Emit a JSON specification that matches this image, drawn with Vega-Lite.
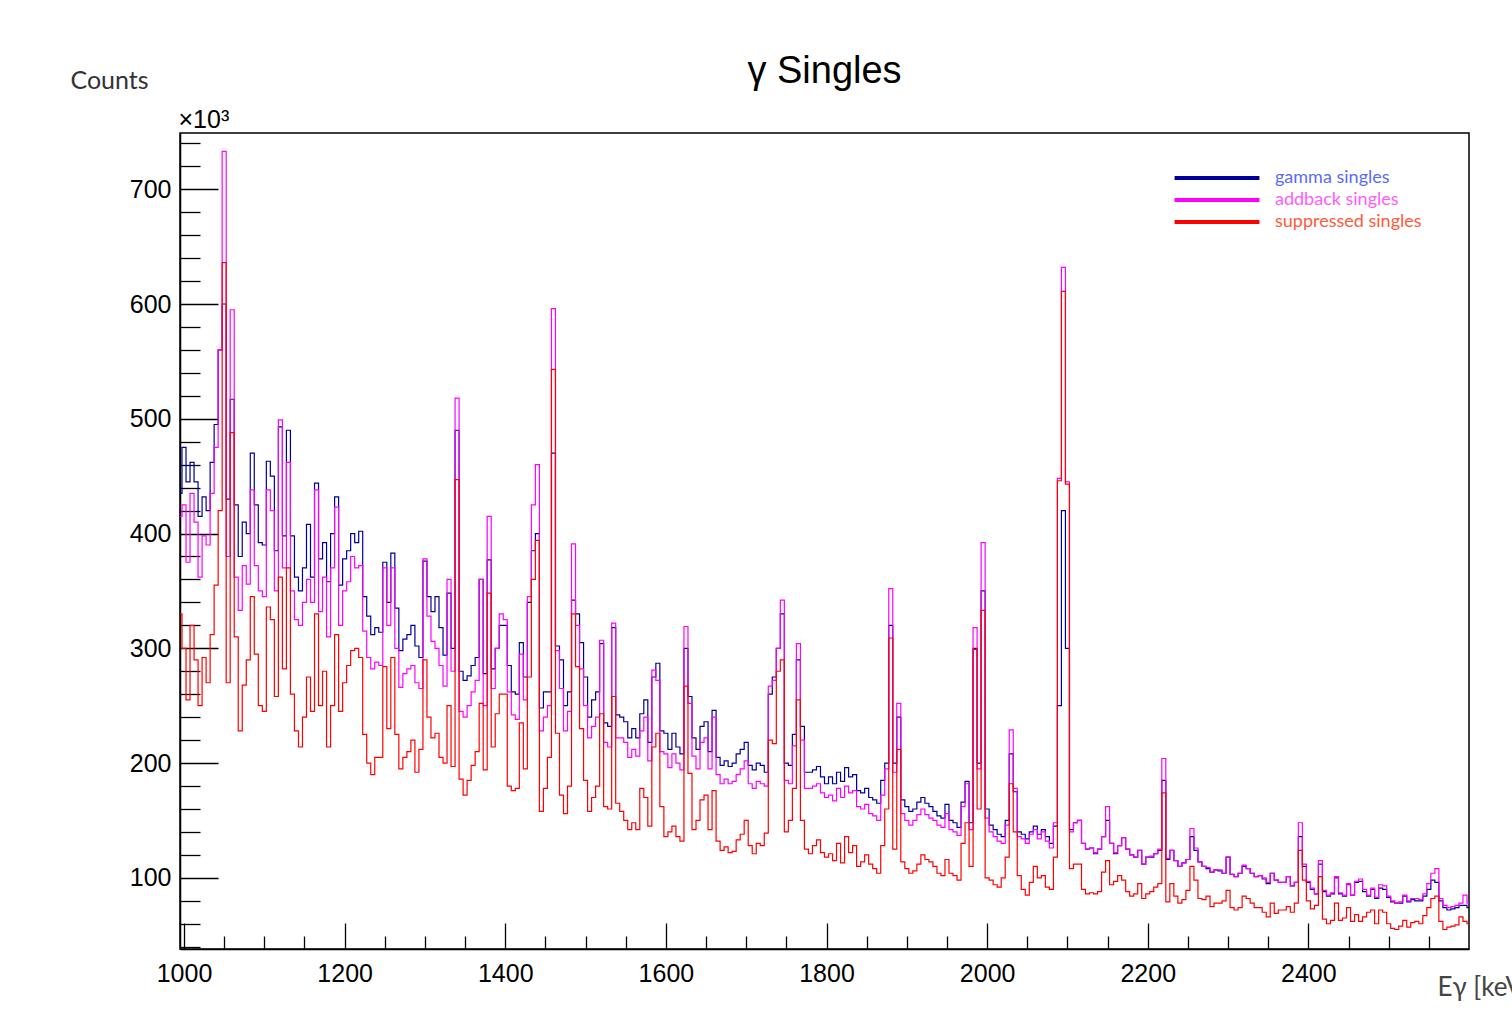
{
"$schema": "https://vega.github.io/schema/vega-lite/v6.json",
"width": 1289, "height": 816,
"autosize": "none",
"padding": {"left": 180, "top": 133, "right": 43, "bottom": 66},
"background": "white",
"title": {"text": "γ Singles", "anchor": "middle", "frame": "group", "font": "Liberation Sans", "fontSize": 38, "fontWeight": "normal", "color": "black", "offset": -23},
"config": {"view": {"stroke": "black", "strokeWidth": 1.5}},
"resolve": {"axis": {"x": "independent"}},
"data": {"values": [
{"E":995,"g":435,"a":415,"s":330},{"E":1000,"g":475,"a":425,"s":300},{"E":1005,"g":445,"a":375,"s":255},{"E":1010,"g":462,"a":435,"s":320},{"E":1015,"g":445,"a":410,"s":290},{"E":1020,"g":415,"a":362,"s":250},{"E":1025,"g":432,"a":398,"s":292},{"E":1030,"g":420,"a":390,"s":270},{"E":1035,"g":462,"a":435,"s":312},{"E":1040,"g":495,"a":475,"s":355},{"E":1045,"g":560,"a":560,"s":420},{"E":1050,"g":600,"a":733,"s":636},{"E":1055,"g":430,"a":380,"s":270},{"E":1060,"g":517,"a":595,"s":488},{"E":1065,"g":425,"a":362,"s":310},{"E":1070,"g":380,"a":333,"s":228},{"E":1075,"g":410,"a":372,"s":268},{"E":1080,"g":400,"a":356,"s":290},{"E":1085,"g":470,"a":438,"s":345},{"E":1090,"g":425,"a":372,"s":295},{"E":1095,"g":392,"a":350,"s":250},{"E":1100,"g":390,"a":345,"s":245},{"E":1105,"g":463,"a":438,"s":336},{"E":1110,"g":450,"a":420,"s":325},{"E":1115,"g":385,"a":350,"s":258},{"E":1120,"g":493,"a":499,"s":362},{"E":1125,"g":398,"a":370,"s":282},{"E":1130,"g":490,"a":462,"s":370},{"E":1135,"g":398,"a":350,"s":260},{"E":1140,"g":362,"a":325,"s":228},{"E":1145,"g":350,"a":320,"s":214},{"E":1150,"g":370,"a":340,"s":240},{"E":1155,"g":408,"a":360,"s":275},{"E":1160,"g":362,"a":340,"s":245},{"E":1165,"g":444,"a":438,"s":330},{"E":1170,"g":378,"a":332,"s":250},{"E":1175,"g":392,"a":362,"s":280},{"E":1180,"g":358,"a":310,"s":214},{"E":1185,"g":400,"a":370,"s":250},{"E":1190,"g":432,"a":423,"s":312},{"E":1195,"g":355,"a":320,"s":245},{"E":1200,"g":378,"a":350,"s":270},{"E":1205,"g":385,"a":358,"s":285},{"E":1210,"g":400,"a":380,"s":298},{"E":1215,"g":392,"a":370,"s":300},{"E":1220,"g":402,"a":372,"s":292},{"E":1225,"g":345,"a":315,"s":225},{"E":1230,"g":328,"a":292,"s":200},{"E":1235,"g":312,"a":282,"s":190},{"E":1240,"g":318,"a":288,"s":205},{"E":1245,"g":314,"a":285,"s":205},{"E":1250,"g":375,"a":370,"s":284},{"E":1255,"g":340,"a":320,"s":230},{"E":1260,"g":383,"a":370,"s":292},{"E":1265,"g":335,"a":300,"s":225},{"E":1270,"g":298,"a":266,"s":195},{"E":1275,"g":308,"a":278,"s":205},{"E":1280,"g":312,"a":282,"s":210},{"E":1285,"g":320,"a":285,"s":220},{"E":1290,"g":302,"a":270,"s":192},{"E":1295,"g":292,"a":265,"s":212},{"E":1300,"g":376,"a":378,"s":290},{"E":1305,"g":345,"a":328,"s":240},{"E":1310,"g":332,"a":306,"s":222},{"E":1315,"g":345,"a":300,"s":226},{"E":1320,"g":318,"a":285,"s":205},{"E":1325,"g":294,"a":267,"s":200},{"E":1330,"g":348,"a":360,"s":250},{"E":1335,"g":300,"a":280,"s":197},{"E":1340,"g":490,"a":518,"s":447},{"E":1345,"g":280,"a":245,"s":186},{"E":1350,"g":272,"a":240,"s":172},{"E":1355,"g":276,"a":250,"s":185},{"E":1360,"g":285,"a":262,"s":198},{"E":1365,"g":292,"a":272,"s":210},{"E":1370,"g":360,"a":360,"s":252},{"E":1375,"g":278,"a":250,"s":194},{"E":1380,"g":377,"a":415,"s":348},{"E":1385,"g":282,"a":265,"s":214},{"E":1390,"g":300,"a":300,"s":243},{"E":1395,"g":320,"a":330,"s":260},
{"E":1400,"g":320,"a":325,"s":260},{"E":1405,"g":285,"a":262,"s":180},{"E":1410,"g":262,"a":242,"s":176},{"E":1415,"g":260,"a":238,"s":178},{"E":1420,"g":305,"a":295,"s":235},{"E":1425,"g":275,"a":255,"s":195},{"E":1430,"g":340,"a":345,"s":275},{"E":1435,"g":385,"a":425,"s":360},{"E":1440,"g":400,"a":460,"s":394},{"E":1445,"g":248,"a":228,"s":158},{"E":1450,"g":262,"a":240,"s":178},{"E":1455,"g":262,"a":250,"s":205},{"E":1460,"g":470,"a":596,"s":543},{"E":1465,"g":302,"a":298,"s":226},{"E":1470,"g":290,"a":265,"s":172},{"E":1475,"g":250,"a":228,"s":156},{"E":1480,"g":262,"a":245,"s":180},{"E":1485,"g":342,"a":391,"s":330},{"E":1490,"g":330,"a":320,"s":284},{"E":1495,"g":305,"a":282,"s":230},{"E":1500,"g":275,"a":250,"s":185},{"E":1505,"g":240,"a":222,"s":158},{"E":1510,"g":255,"a":232,"s":170},{"E":1515,"g":262,"a":240,"s":180},{"E":1520,"g":304,"a":307,"s":243},{"E":1525,"g":235,"a":218,"s":162},{"E":1530,"g":232,"a":214,"s":160},{"E":1535,"g":318,"a":322,"s":258},{"E":1540,"g":242,"a":222,"s":165},{"E":1545,"g":240,"a":222,"s":158},{"E":1550,"g":236,"a":218,"s":150},{"E":1555,"g":222,"a":205,"s":142},{"E":1560,"g":230,"a":212,"s":148},{"E":1565,"g":222,"a":206,"s":142},{"E":1570,"g":243,"a":228,"s":178},{"E":1575,"g":255,"a":240,"s":170},{"E":1580,"g":218,"a":202,"s":145},{"E":1585,"g":275,"a":281,"s":214},{"E":1590,"g":287,"a":272,"s":226},{"E":1595,"g":228,"a":210,"s":162},{"E":1600,"g":226,"a":208,"s":136},{"E":1605,"g":212,"a":196,"s":140},{"E":1610,"g":226,"a":208,"s":145},{"E":1615,"g":214,"a":200,"s":136},{"E":1620,"g":208,"a":194,"s":132},{"E":1625,"g":300,"a":319,"s":267},{"E":1630,"g":258,"a":252,"s":191},{"E":1635,"g":222,"a":206,"s":142},{"E":1640,"g":212,"a":195,"s":150},{"E":1645,"g":232,"a":218,"s":168},{"E":1650,"g":236,"a":222,"s":172},{"E":1655,"g":210,"a":195,"s":142},{"E":1660,"g":246,"a":240,"s":176},{"E":1665,"g":205,"a":190,"s":132},{"E":1670,"g":198,"a":182,"s":124},{"E":1675,"g":202,"a":186,"s":127},{"E":1680,"g":197,"a":182,"s":122},{"E":1685,"g":200,"a":184,"s":123},{"E":1690,"g":208,"a":190,"s":133},{"E":1695,"g":212,"a":195,"s":138},{"E":1700,"g":218,"a":202,"s":150},{"E":1705,"g":198,"a":182,"s":128},{"E":1710,"g":194,"a":178,"s":121},{"E":1715,"g":200,"a":184,"s":130},{"E":1720,"g":198,"a":182,"s":128},{"E":1725,"g":192,"a":180,"s":139},{"E":1730,"g":260,"a":267,"s":220},{"E":1735,"g":275,"a":272,"s":217},{"E":1740,"g":300,"a":300,"s":280},{"E":1745,"g":330,"a":342,"s":290},{"E":1750,"g":200,"a":185,"s":140},{"E":1755,"g":198,"a":182,"s":150},{"E":1760,"g":225,"a":215,"s":178},{"E":1765,"g":290,"a":304,"s":255},{"E":1770,"g":232,"a":220,"s":150},{"E":1775,"g":192,"a":178,"s":125},{"E":1780,"g":192,"a":178,"s":121},{"E":1785,"g":194,"a":180,"s":128},{"E":1790,"g":197,"a":182,"s":133},{"E":1795,"g":188,"a":174,"s":122},{"E":1800,"g":182,"a":170,"s":118},
{"E":1805,"g":188,"a":172,"s":121},{"E":1810,"g":182,"a":167,"s":115},{"E":1815,"g":192,"a":178,"s":130},{"E":1820,"g":184,"a":170,"s":113},{"E":1825,"g":196,"a":180,"s":136},{"E":1830,"g":188,"a":174,"s":122},{"E":1835,"g":190,"a":176,"s":128},{"E":1840,"g":176,"a":162,"s":110},{"E":1845,"g":174,"a":160,"s":114},{"E":1850,"g":178,"a":164,"s":120},{"E":1855,"g":170,"a":156,"s":112},{"E":1860,"g":168,"a":154,"s":108},{"E":1865,"g":165,"a":150,"s":104},{"E":1870,"g":185,"a":172,"s":128},{"E":1875,"g":200,"a":195,"s":160},{"E":1880,"g":320,"a":352,"s":309},{"E":1885,"g":200,"a":192,"s":125},{"E":1890,"g":240,"a":252,"s":212},{"E":1895,"g":168,"a":156,"s":114},{"E":1900,"g":162,"a":150,"s":108},{"E":1905,"g":158,"a":146,"s":104},{"E":1910,"g":160,"a":150,"s":106},{"E":1915,"g":166,"a":155,"s":112},{"E":1920,"g":170,"a":160,"s":120},{"E":1925,"g":165,"a":155,"s":116},{"E":1930,"g":162,"a":152,"s":114},{"E":1935,"g":158,"a":150,"s":110},{"E":1940,"g":154,"a":146,"s":104},{"E":1945,"g":152,"a":144,"s":102},{"E":1950,"g":164,"a":156,"s":116},{"E":1955,"g":150,"a":142,"s":104},{"E":1960,"g":148,"a":140,"s":102},{"E":1965,"g":144,"a":137,"s":98},{"E":1970,"g":166,"a":162,"s":130},{"E":1975,"g":184,"a":182,"s":148},{"E":1980,"g":148,"a":142,"s":110},{"E":1985,"g":300,"a":318,"s":299},{"E":1990,"g":200,"a":195,"s":160},{"E":1995,"g":350,"a":392,"s":333},{"E":2000,"g":160,"a":152,"s":100},{"E":2005,"g":146,"a":140,"s":98},{"E":2010,"g":142,"a":136,"s":94},{"E":2015,"g":138,"a":132,"s":92},{"E":2020,"g":136,"a":130,"s":100},{"E":2025,"g":150,"a":146,"s":118},{"E":2030,"g":208,"a":229,"s":182},{"E":2035,"g":175,"a":178,"s":140},{"E":2040,"g":140,"a":136,"s":102},{"E":2045,"g":138,"a":134,"s":90},{"E":2050,"g":134,"a":130,"s":85},{"E":2055,"g":140,"a":138,"s":96},{"E":2060,"g":145,"a":142,"s":110},{"E":2065,"g":138,"a":134,"s":100},{"E":2070,"g":142,"a":140,"s":102},{"E":2075,"g":136,"a":132,"s":92},{"E":2080,"g":130,"a":126,"s":90},{"E":2085,"g":145,"a":148,"s":118},{"E":2090,"g":250,"a":448,"s":446},{"E":2095,"g":420,"a":632,"s":611},{"E":2100,"g":300,"a":445,"s":443},{"E":2105,"g":142,"a":140,"s":108},{"E":2110,"g":148,"a":148,"s":112},{"E":2115,"g":150,"a":150,"s":112},{"E":2120,"g":130,"a":130,"s":90},{"E":2125,"g":125,"a":125,"s":86},{"E":2130,"g":126,"a":126,"s":87},{"E":2135,"g":121,"a":122,"s":86},{"E":2140,"g":125,"a":125,"s":88},{"E":2145,"g":136,"a":136,"s":105},{"E":2150,"g":150,"a":162,"s":115},{"E":2155,"g":130,"a":130,"s":94},{"E":2160,"g":121,"a":122,"s":97},{"E":2165,"g":128,"a":128,"s":102},{"E":2170,"g":135,"a":135,"s":98},{"E":2175,"g":125,"a":125,"s":88},{"E":2180,"g":120,"a":120,"s":84},{"E":2185,"g":118,"a":118,"s":86},{"E":2190,"g":124,"a":124,"s":95},{"E":2195,"g":112,"a":112,"s":82},{"E":2200,"g":118,"a":118,"s":86},
{"E":2205,"g":118,"a":119,"s":88},{"E":2210,"g":121,"a":121,"s":92},{"E":2215,"g":124,"a":125,"s":95},{"E":2220,"g":185,"a":204,"s":174},{"E":2225,"g":116,"a":117,"s":79},{"E":2230,"g":124,"a":124,"s":95},{"E":2235,"g":115,"a":115,"s":84},{"E":2240,"g":110,"a":110,"s":78},{"E":2245,"g":113,"a":113,"s":81},{"E":2250,"g":116,"a":116,"s":89},{"E":2255,"g":136,"a":143,"s":110},{"E":2260,"g":124,"a":126,"s":98},{"E":2265,"g":114,"a":114,"s":82},{"E":2270,"g":110,"a":110,"s":81},{"E":2275,"g":108,"a":109,"s":84},{"E":2280,"g":105,"a":105,"s":75},{"E":2285,"g":107,"a":107,"s":78},{"E":2290,"g":106,"a":107,"s":78},{"E":2295,"g":104,"a":104,"s":80},{"E":2300,"g":118,"a":118,"s":89},{"E":2305,"g":103,"a":103,"s":74},{"E":2310,"g":101,"a":101,"s":72},{"E":2315,"g":104,"a":104,"s":74},{"E":2320,"g":110,"a":111,"s":84},{"E":2325,"g":108,"a":108,"s":82},{"E":2330,"g":104,"a":104,"s":78},{"E":2335,"g":101,"a":101,"s":74},{"E":2340,"g":102,"a":102,"s":74},{"E":2345,"g":99,"a":100,"s":70},{"E":2350,"g":95,"a":96,"s":66},{"E":2355,"g":104,"a":104,"s":78},{"E":2360,"g":98,"a":98,"s":69},{"E":2365,"g":96,"a":96,"s":72},{"E":2370,"g":96,"a":96,"s":72},{"E":2375,"g":101,"a":101,"s":75},{"E":2380,"g":93,"a":93,"s":70},{"E":2385,"g":96,"a":96,"s":78},{"E":2390,"g":136,"a":148,"s":124},{"E":2395,"g":110,"a":112,"s":98},{"E":2400,"g":96,"a":97,"s":80},{"E":2405,"g":90,"a":91,"s":73},{"E":2410,"g":86,"a":86,"s":76},{"E":2415,"g":112,"a":115,"s":101},{"E":2420,"g":88,"a":89,"s":64},{"E":2425,"g":84,"a":85,"s":60},{"E":2430,"g":86,"a":87,"s":63},{"E":2435,"g":100,"a":101,"s":78},{"E":2440,"g":86,"a":87,"s":63},{"E":2445,"g":84,"a":85,"s":65},{"E":2450,"g":94,"a":95,"s":74},{"E":2455,"g":85,"a":85,"s":62},{"E":2460,"g":96,"a":97,"s":68},{"E":2465,"g":97,"a":99,"s":62},{"E":2470,"g":88,"a":90,"s":66},{"E":2475,"g":84,"a":85,"s":70},{"E":2480,"g":90,"a":91,"s":72},{"E":2485,"g":82,"a":83,"s":60},{"E":2490,"g":91,"a":94,"s":72},{"E":2495,"g":90,"a":93,"s":70},{"E":2500,"g":83,"a":84,"s":60},{"E":2505,"g":79,"a":80,"s":56},{"E":2510,"g":78,"a":78,"s":55},{"E":2515,"g":78,"a":79,"s":58},{"E":2520,"g":84,"a":85,"s":63},{"E":2525,"g":79,"a":80,"s":57},{"E":2530,"g":81,"a":82,"s":61},{"E":2535,"g":80,"a":82,"s":62},{"E":2540,"g":80,"a":81,"s":60},{"E":2545,"g":84,"a":86,"s":67},{"E":2550,"g":90,"a":95,"s":74},{"E":2555,"g":98,"a":104,"s":82},{"E":2560,"g":96,"a":108,"s":84},{"E":2565,"g":80,"a":82,"s":62},{"E":2570,"g":74,"a":76,"s":55},{"E":2575,"g":72,"a":74,"s":57},{"E":2580,"g":73,"a":75,"s":58},{"E":2585,"g":74,"a":76,"s":59},{"E":2590,"g":76,"a":78,"s":66},{"E":2595,"g":76,"a":85,"s":62},{"E":2600,"g":74,"a":78,"s":60}
]},
"layer": [
  {"mark": {"type": "line", "interpolate": "step", "strokeWidth": 1.2},
   "encoding": {
     "x": {"field": "E", "type": "quantitative", "title": "Eγ [keV]",
       "scale": {"domain": [995, 2600], "nice": false, "zero": false},
       "axis": {"values": [1000,1050,1100,1150,1200,1250,1300,1350,1400,1450,1500,1550,1600,1650,1700,1750,1800,1850,1900,1950,2000,2050,2100,2150,2200,2250,2300,2350,2400,2450,2500,2550],
         "tickCount": 200,
         "tickSize": {"condition": {"test": "datum.value % 200 === 0", "value": -26}, "value": -13},
         "labelExpr": "datum.value % 200 === 0 ? datum.label : ''",
         "format": "d",
         "labelFont": "Liberation Sans", "labelFontSize": 25, "labelColor": "black", "labelPadding": 38, "labelOverlap": false, "labelFlush": false, "labelBound": false,
         "tickColor": "black", "tickWidth": 1.3, "domainColor": "black", "domainWidth": 1.5, "grid": false,
         "titleFont": "Lato", "titleFontSize": 26, "titleFontWeight": "normal", "titleColor": "#444444",
         "titleX": 1257, "titleY": 38, "titleAlign": "left", "titleBaseline": "middle"}},
     "y": {"field": "g", "type": "quantitative", "title": "Counts",
       "scale": {"domain": [38, 749], "nice": false, "zero": false},
       "axis": {"values": [40,60,80,100,120,140,160,180,200,220,240,260,280,300,320,340,360,380,400,420,440,460,480,500,520,540,560,580,600,620,640,660,680,700,720,740],
         "tickCount": 200,
         "tickSize": {"condition": {"test": "datum.value % 100 === 0", "value": -38}, "value": -20},
         "labelExpr": "datum.value % 100 === 0 ? datum.label : ''",
         "labelFont": "Liberation Sans", "labelFontSize": 25, "labelColor": "black", "labelPadding": 47, "labelOverlap": false, "labelFlush": false, "labelBound": false,
         "tickColor": "black", "tickWidth": 1.3, "domainColor": "black", "domainWidth": 1.5, "grid": false,
         "titleAngle": 0, "titleX": -71, "titleY": -53, "titleAlign": "center", "titleBaseline": "middle",
         "titleFont": "Lato", "titleFontSize": 25, "titleFontWeight": "normal", "titleColor": "#333333"}},
     "color": {"datum": "gamma singles", "type": "nominal",
       "scale": {"domain": ["gamma singles", "addback singles", "suppressed singles"], "range": ["#000099", "#ff00ff", "#ff0000"]},
       "legend": {"orient": "none", "legendX": 1024, "legendY": 32, "title": null, "padding": 0,
         "symbolType": "M-4,0H4", "symbolSize": 450, "symbolStrokeWidth": 4,
         "labelFont": "Lato", "labelFontSize": 18, "labelOffset": 45, "rowPadding": 0,
         "encoding": {
           "labels": {"fill": {"condition": [{"test": "datum.value === 'gamma singles'", "value": "#5a6cf5"}, {"test": "datum.value === 'addback singles'", "value": "#ff5cff"}], "value": "#ff5a3a"}},
           "symbols": {"stroke": {"condition": [{"test": "datum.value === 'gamma singles'", "value": "#0a28ff"}, {"test": "datum.value === 'addback singles'", "value": "#ff22ff"}], "value": "#ff2a10"}}
         }}}
   }},
  {"mark": {"type": "line", "interpolate": "step", "strokeWidth": 1.2},
   "encoding": {
     "x": {"field": "E", "type": "quantitative", "title": "×10³",
       "axis": {"orient": "top", "ticks": false, "labels": false, "domain": false, "grid": false,
         "titleX": -2, "titleY": -6, "titleAlign": "left", "titleBaseline": "alphabetic",
         "titleFont": "Liberation Sans", "titleFontSize": 25, "titleFontWeight": "normal", "titleColor": "black"}},
     "y": {"field": "a", "type": "quantitative", "title": "Counts"},
     "color": {"datum": "addback singles", "type": "nominal"}
   }},
  {"mark": {"type": "line", "interpolate": "step", "strokeWidth": 1.2},
   "encoding": {
     "x": {"field": "E", "type": "quantitative", "axis": null},
     "y": {"field": "s", "type": "quantitative", "title": "Counts"},
     "color": {"datum": "suppressed singles", "type": "nominal"}
   }}
]
}
